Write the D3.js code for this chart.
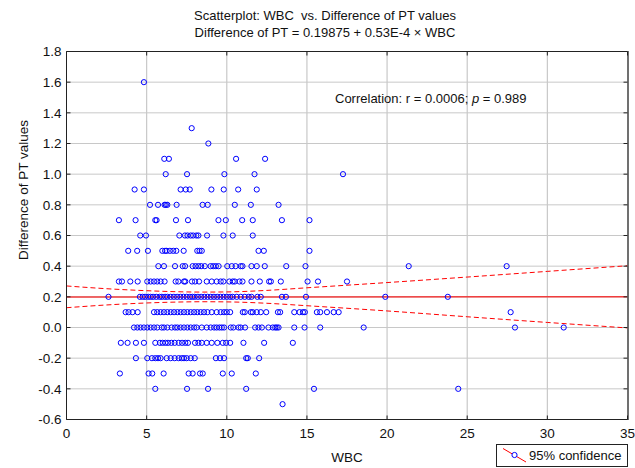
<!DOCTYPE html>
<html>
<head>
<meta charset="utf-8">
<script src="https://cdn.jsdelivr.net/npm/d3@7"></script>
<style>
  html, body { margin: 0; padding: 0; background: #fff; }
  svg { display: block; font-family: "Liberation Sans", Arial, sans-serif; }
  text { white-space: pre; }
</style>
</head>
<body>
<svg id="chart" width="635" height="468"></svg>
<script>
// ---- Data ----
const diffLevels = [1.6, 1.3, 1.2, 1.1, 1.0, 0.9, 0.8, 0.7, 0.6, 0.5, 0.4, 0.3, 0.2, 0.1, 0.0, -0.1, -0.2, -0.3, -0.4, -0.5];
const wbcByLevel = [
  [4.83],
  [7.81],
  [8.85],
  [6.1, 6.39, 10.58, 12.39],
  [6.19, 7.52, 9.85, 11.73, 17.25],
  [4.25, 4.83, 7.12, 7.44, 7.69, 9.04, 9.81, 10.71, 11.87],
  [5.21, 5.71, 6.12, 6.2, 6.29, 6.87, 8.49, 8.81, 10.5, 11.5, 13.23],
  [3.27, 4.31, 5.54, 5.62, 6.83, 7.58, 9.48, 9.94, 10.96, 11.62, 13.44, 15.16],
  [4.60, 4.96, 7.04, 7.39, 7.55, 7.75, 7.9, 8.1, 8.23, 8.77, 9.79, 10.37, 11.62],
  [3.85, 4.41, 5.08, 5.98, 6.15, 6.25, 6.45, 6.66, 6.85, 7.31, 8.16, 8.3, 8.44, 11.98, 12.31, 15.16],
  [5.73, 6.08, 6.77, 7.25, 7.4, 7.87, 8.05, 8.23, 8.4, 8.63, 8.99, 9.15, 9.32, 9.49, 10.03, 10.31, 10.55, 10.87, 10.98, 11.54, 11.87, 12.37, 13.71, 14.91, 21.35, 27.46],
  [3.27, 3.46, 3.98, 4.44, 5.04, 5.25, 5.46, 5.66, 5.87, 6.12, 6.81, 6.98, 7.33, 7.41, 7.83, 8.02, 8.27, 8.75, 9.06, 9.37, 9.62, 9.79, 10.16, 10.37, 10.5, 10.79, 10.98, 11.54, 12.06, 12.64, 12.75, 13.37, 15.04, 15.69, 17.5],
  [2.62, 4.58, 4.75, 4.9, 5.1, 5.25, 5.4, 5.6, 5.8, 5.95, 6.15, 6.3, 6.5, 6.7, 6.9, 7.1, 7.3, 7.5, 7.7, 7.85, 8.0, 8.2, 8.4, 8.6, 8.8, 9.0, 9.2, 9.4, 9.6, 9.8, 10.0, 10.21, 10.37, 10.62, 10.87, 11.12, 11.37, 11.54, 11.91, 12.12, 13.44, 13.69, 14.94, 19.89, 23.79],
  [3.69, 3.87, 4.12, 4.44, 5.46, 5.66, 5.87, 6.08, 6.29, 6.5, 6.71, 6.92, 7.12, 7.33, 7.54, 7.75, 7.96, 8.16, 8.37, 8.58, 8.79, 9.06, 9.37, 9.62, 9.83, 10.0, 10.21, 11.0, 11.12, 11.5, 11.62, 11.87, 12.12, 12.46, 13.19, 13.33, 14.21, 14.54, 14.75, 14.87, 15.62, 15.83, 16.25, 16.67, 16.98, 27.71],
  [4.21, 4.42, 4.62, 4.83, 5.04, 5.25, 5.46, 5.66, 5.94, 6.08, 6.29, 6.56, 6.77, 6.92, 7.12, 7.33, 7.54, 7.75, 7.96, 8.12, 8.44, 8.75, 9.0, 9.21, 9.37, 9.54, 9.69, 9.83, 10.25, 10.41, 10.73, 10.87, 11.14, 11.77, 11.98, 12.19, 12.6, 12.87, 13.02, 13.12, 13.23, 14.21, 14.85, 15.83, 18.54, 27.98, 31.02],
  [3.39, 3.81, 4.33, 4.83, 5.54, 5.83, 6.0, 6.17, 6.33, 6.54, 6.75, 7.0, 7.21, 7.41, 7.58, 8.02, 8.23, 8.44, 8.75, 9.06, 9.41, 9.75, 9.96, 10.21, 11.04, 12.33, 14.12],
  [4.33, 5.04, 5.33, 5.54, 5.71, 5.87, 6.25, 6.5, 6.75, 7.0, 7.19, 7.33, 7.5, 7.75, 8.0, 9.32, 9.58, 9.83, 11.21, 11.31, 12.02],
  [3.33, 5.12, 5.35, 6.06, 7.62, 7.87, 8.33, 8.5, 9.75, 10.31, 11.81],
  [5.54, 7.52, 8.83, 11.21, 15.44, 24.44],
  [13.48]
];

// Regression fit and 95% confidence band
const fitIntercept = 0.19875;
const fitSlope = 0.000053;
const bandX     = [0,     2.5,   5,     7.5,   8.4,   10,    12.5,  15,    20,    25,    30,    35];
const bandUpper = [0.271, 0.253, 0.240, 0.232, 0.231, 0.232, 0.242, 0.259, 0.293, 0.329, 0.366, 0.403];
const bandLower = [0.129, 0.147, 0.160, 0.167, 0.168, 0.167, 0.158, 0.142, 0.108, 0.070, 0.033, -0.003];

const xTicks = [0, 5, 10, 15, 20, 25, 30, 35];
const yTicks = [-0.6, -0.4, -0.2, 0.0, 0.2, 0.4, 0.6, 0.8, 1.0, 1.2, 1.4, 1.6, 1.8];

const titleLines = ["Scatterplot: WBC  vs. Difference of PT values", "Difference of PT = 0.19875 + 0.53E-4 \u00d7 WBC"];
const xLabel = "WBC";
const yLabel = "Difference of PT values";
const legendLabel = "95% confidence";

// ---- Layout ----
const L = 66.5, R = 627.5, T = 51.5, B = 419.5;
const svg = d3.select("#chart");
const x = d3.scaleLinear().domain([0, 35]).range([L, R]);
const y = d3.scaleLinear().domain([-0.6, 1.8]).range([B, T]);

const points = [];
diffLevels.forEach((lv, i) => wbcByLevel[i].forEach(w => points.push({ w, d: lv })));

// gridlines
const grid = svg.append("g");
grid.selectAll("line.v").data(xTicks.slice(1, -1)).join("line")
  .attr("x1", d => x(d)).attr("x2", d => x(d)).attr("y1", T).attr("y2", B)
  .attr("stroke", "#c8c8c8").attr("stroke-width", 1.2);
grid.selectAll("line.h").data(yTicks.slice(1, -1)).join("line")
  .attr("y1", d => y(d)).attr("y2", d => y(d)).attr("x1", L).attr("x2", R)
  .attr("stroke", "#c8c8c8").attr("stroke-width", 1);

// clip
svg.append("clipPath").attr("id", "clip").append("rect")
  .attr("x", L).attr("y", T).attr("width", R - L).attr("height", B - T);
const plot = svg.append("g").attr("clip-path", "url(#clip)");

// band lines
const bandLine = (arr) => d3.line().x((d, i) => x(bandX[i])).y(d => y(d)).curve(d3.curveMonotoneX)(arr);
[bandUpper, bandLower].forEach(arr => {
  plot.append("path").attr("d", bandLine(arr)).attr("fill", "none")
    .attr("stroke", "#ff0000").attr("stroke-width", 1).attr("stroke-dasharray", "5,3");
});

// regression line
plot.append("line")
  .attr("x1", x(0)).attr("x2", x(35))
  .attr("y1", y(fitIntercept + fitSlope * 0)).attr("y2", y(fitIntercept + fitSlope * 35))
  .attr("stroke", "#f03c3c").attr("stroke-width", 1.6);

// points
plot.selectAll("circle.pt").data(points).join("circle")
  .attr("class", "pt")
  .attr("cx", d => x(d.w)).attr("cy", d => y(d.d)).attr("r", 2.6)
  .attr("fill", "none").attr("stroke", "#0000ff").attr("stroke-width", 1);

// frame
const frame = svg.append("g");
frame.append("line").attr("x1", L).attr("x2", R).attr("y1", T).attr("y2", T).attr("stroke", "#222");
frame.append("line").attr("x1", L).attr("x2", R).attr("y1", B).attr("y2", B).attr("stroke", "#222");
frame.append("line").attr("x1", L).attr("x2", L).attr("y1", T).attr("y2", B).attr("stroke", "#222");
frame.append("line").attr("x1", R + 0.5).attr("x2", R + 0.5).attr("y1", T - 0.5).attr("y2", B + 0.5).attr("stroke", "#707070").attr("stroke-width", 2);

// ticks (inward)
const tk = 4;
frame.selectAll("line.tt").data(xTicks).join("line")
  .attr("x1", d => x(d)).attr("x2", d => x(d)).attr("y1", T).attr("y2", T + tk).attr("stroke", "#222");
frame.selectAll("line.tb").data(xTicks).join("line")
  .attr("x1", d => x(d)).attr("x2", d => x(d)).attr("y1", B).attr("y2", B - tk).attr("stroke", "#222");
frame.selectAll("line.tl").data(yTicks).join("line")
  .attr("y1", d => y(d)).attr("y2", d => y(d)).attr("x1", L).attr("x2", L + tk).attr("stroke", "#222");
frame.selectAll("line.tr").data(yTicks).join("line")
  .attr("y1", d => y(d)).attr("y2", d => y(d)).attr("x1", R).attr("x2", R - tk).attr("stroke", "#222");

// tick labels
const fmtY = d => (d < 0 ? "-" : "") + Math.abs(d).toFixed(1);
svg.append("g").selectAll("text").data(yTicks).join("text")
  .attr("x", L - 5).attr("y", d => y(d)).attr("dy", "0.36em")
  .attr("text-anchor", "end").attr("font-size", 13.5).attr("fill", "#111")
  .text(fmtY);
svg.append("g").selectAll("text").data(xTicks).join("text")
  .attr("x", d => x(d)).attr("y", 438)
  .attr("text-anchor", "middle").attr("font-size", 13.5).attr("fill", "#111")
  .text(d => d);

// titles
svg.append("g").selectAll("text").data(titleLines).join("text")
  .attr("x", 325).attr("y", (d, i) => 19.5 + i * 17)
  .attr("text-anchor", "middle").attr("font-size", 13).attr("fill", "#111")
  .attr("xml:space", "preserve")
  .text(d => d);

// axis labels
svg.append("text").attr("x", 347).attr("y", 461.5).attr("text-anchor", "middle")
  .attr("font-size", 13.5).attr("fill", "#111").text(xLabel);
svg.append("text").attr("transform", "translate(28,190) rotate(-90)").attr("text-anchor", "middle")
  .attr("font-size", 13.5).attr("fill", "#111").text(yLabel);

// correlation annotation
const corr = svg.append("text").attr("x", 335).attr("y", 102.5).attr("font-size", 13).attr("fill", "#111");
corr.append("tspan").text("Correlation: r = 0.0006; ");
corr.append("tspan").attr("font-style", "italic").text("p");
corr.append("tspan").text(" = 0.989");

// legend
const lg = svg.append("g");
lg.append("rect").attr("x", 496.5).attr("y", 444.5).attr("width", 131).attr("height", 22)
  .attr("fill", "#fff").attr("stroke", "#222").attr("stroke-width", 1);
lg.append("line").attr("x1", 503).attr("y1", 448.5).attr("x2", 526).attr("y2", 462)
  .attr("stroke", "#ff0000").attr("stroke-width", 1);
lg.append("circle").attr("cx", 514.5).attr("cy", 455).attr("r", 2.6)
  .attr("fill", "#fff").attr("stroke", "#0000ff").attr("stroke-width", 1);
lg.append("text").attr("x", 529).attr("y", 460).attr("font-size", 13).attr("fill", "#111").text(legendLabel);
</script>
</body>
</html>
